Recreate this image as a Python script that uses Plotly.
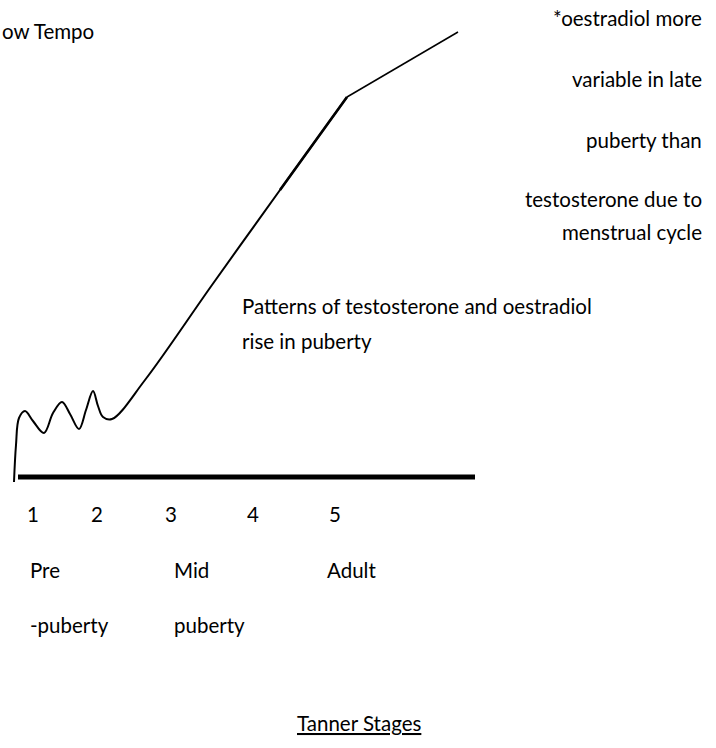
import plotly.graph_objects as go

# Curve of hormone rise (drawing units: x right, y down)
curve_x = [14, 16, 19, 25, 33, 44, 53, 62, 70, 79, 86, 93, 98, 103, 112, 145, 212, 280, 347]
curve_y = [482, 445, 418, 411, 421, 433, 413, 402, 414, 429, 410, 391, 406, 417, 419, 380, 285, 190, 97]
tail_x = [347, 458]
tail_y = [97, 32]
overlay_x = [280, 347]
overlay_y = [190, 97]

# Baseline axis
axis_x = [18, 475]
axis_y = [477, 477]

# Tanner stage tick labels
stage_labels = ["1", "2", "3", "4", "5"]
stage_x = [33, 97, 171, 253, 335]
stage_y = 514

phase_top = ["Pre", "Mid", "Adult"]
phase_top_x = [28, 172, 325]
phase_bottom = ["-puberty", "puberty"]
phase_bottom_x = [28, 172]

note_lines = ["*oestradiol more", "variable in late", "puberty than",
              "testosterone due to", "menstrual cycle"]
note_y = [18, 79, 140, 199, 232]

title_lines = ["Patterns of testosterone and oestradiol", "rise in puberty"]
title_y = [306, 341]

FONT = dict(family="Lato, Carlito, Calibri, sans-serif", size=20.5, color="#000000")

fig = go.Figure()
fig.add_trace(go.Scatter(x=curve_x, y=curve_y, mode="lines",
                         line=dict(color="black", width=2, shape="spline", smoothing=1.0),
                         hoverinfo="skip"))
fig.add_trace(go.Scatter(x=overlay_x, y=overlay_y, mode="lines",
                         line=dict(color="black", width=2.6), hoverinfo="skip"))
fig.add_trace(go.Scatter(x=tail_x, y=tail_y, mode="lines",
                         line=dict(color="black", width=1.5), hoverinfo="skip"))
fig.add_trace(go.Scatter(x=axis_x, y=axis_y, mode="lines",
                         line=dict(color="black", width=5), hoverinfo="skip"))

ann = []
for t, x in zip(stage_labels, stage_x):
    ann.append(dict(x=x, y=stage_y, text=t, xanchor="center", yanchor="middle"))
for t, x in zip(phase_top, phase_top_x):
    ann.append(dict(x=x, y=570, text=t, xanchor="left", yanchor="middle"))
for t, x in zip(phase_bottom, phase_bottom_x):
    ann.append(dict(x=x, y=625, text=t, xanchor="left", yanchor="middle"))
for t, y in zip(note_lines, note_y):
    ann.append(dict(x=704, y=y, text=t, xanchor="right", yanchor="middle"))
for t, y in zip(title_lines, title_y):
    ann.append(dict(x=240, y=y, text=t, xanchor="left", yanchor="middle"))
ann.append(dict(x=0, y=31, text="ow Tempo", xanchor="left", yanchor="middle"))
ann.append(dict(x=359, y=723, text="<u>Tanner Stages</u>", xanchor="center", yanchor="middle"))
for a in ann:
    a.update(xref="x", yref="y", showarrow=False, font=FONT)

fig.update_layout(
    width=716, height=748,
    margin=dict(l=0, r=0, t=0, b=0),
    paper_bgcolor="white", plot_bgcolor="white",
    showlegend=False,
    annotations=ann,
    xaxis=dict(range=[0, 716], visible=False, fixedrange=True),
    yaxis=dict(range=[748, 0], visible=False, fixedrange=True),
)
fig.write_html("out.html", config={"displayModeBar": False, "staticPlot": True},
               post_script="document.body.style.margin='0';document.body.style.overflow='hidden';")
